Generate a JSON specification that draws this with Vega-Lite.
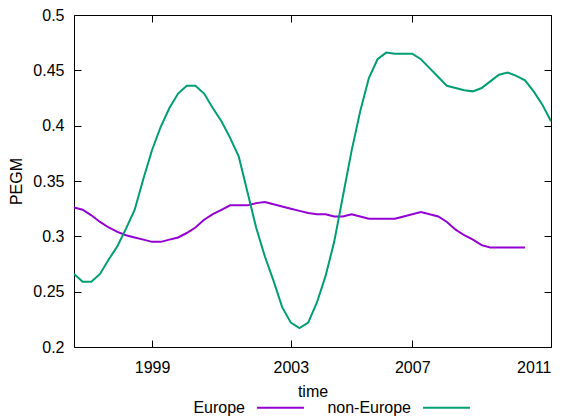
{
  "$schema": "https://vega.github.io/schema/vega-lite/v6.json",
  "width": 477,
  "height": 332,
  "autosize": {"type": "none"},
  "padding": {"left": 74, "top": 15, "right": 18, "bottom": 69},
  "background": "white",
  "config": {
    "font": "Liberation Sans",
    "view": {"stroke": "black", "strokeWidth": 1},
    "axis": {
      "grid": false,
      "domain": false,
      "tickColor": "black",
      "tickSize": -7,
      "tickWidth": 1,
      "labelFontSize": 16,
      "labelColor": "black",
      "labelFont": "Liberation Sans",
      "titleFont": "Liberation Sans",
      "titleFontSize": 16,
      "titleFontWeight": "normal",
      "titleColor": "black"
    }
  },
  "data": {
    "values": [
      {"t": 0, "series": "Europe", "PEGM": 0.326},
      {"t": 1, "series": "Europe", "PEGM": 0.324},
      {"t": 2, "series": "Europe", "PEGM": 0.319},
      {"t": 3, "series": "Europe", "PEGM": 0.313},
      {"t": 4, "series": "Europe", "PEGM": 0.308},
      {"t": 5, "series": "Europe", "PEGM": 0.304},
      {"t": 6, "series": "Europe", "PEGM": 0.301},
      {"t": 7, "series": "Europe", "PEGM": 0.299},
      {"t": 8, "series": "Europe", "PEGM": 0.297},
      {"t": 9, "series": "Europe", "PEGM": 0.295},
      {"t": 10, "series": "Europe", "PEGM": 0.295},
      {"t": 11, "series": "Europe", "PEGM": 0.297},
      {"t": 12, "series": "Europe", "PEGM": 0.299},
      {"t": 13, "series": "Europe", "PEGM": 0.303},
      {"t": 14, "series": "Europe", "PEGM": 0.308},
      {"t": 15, "series": "Europe", "PEGM": 0.315},
      {"t": 16, "series": "Europe", "PEGM": 0.320},
      {"t": 17, "series": "Europe", "PEGM": 0.324},
      {"t": 18, "series": "Europe", "PEGM": 0.328},
      {"t": 19, "series": "Europe", "PEGM": 0.328},
      {"t": 20, "series": "Europe", "PEGM": 0.328},
      {"t": 21, "series": "Europe", "PEGM": 0.330},
      {"t": 22, "series": "Europe", "PEGM": 0.331},
      {"t": 23, "series": "Europe", "PEGM": 0.329},
      {"t": 24, "series": "Europe", "PEGM": 0.327},
      {"t": 25, "series": "Europe", "PEGM": 0.325},
      {"t": 26, "series": "Europe", "PEGM": 0.323},
      {"t": 27, "series": "Europe", "PEGM": 0.321},
      {"t": 28, "series": "Europe", "PEGM": 0.320},
      {"t": 29, "series": "Europe", "PEGM": 0.320},
      {"t": 30, "series": "Europe", "PEGM": 0.318},
      {"t": 31, "series": "Europe", "PEGM": 0.318},
      {"t": 32, "series": "Europe", "PEGM": 0.320},
      {"t": 33, "series": "Europe", "PEGM": 0.318},
      {"t": 34, "series": "Europe", "PEGM": 0.316},
      {"t": 35, "series": "Europe", "PEGM": 0.316},
      {"t": 36, "series": "Europe", "PEGM": 0.316},
      {"t": 37, "series": "Europe", "PEGM": 0.316},
      {"t": 38, "series": "Europe", "PEGM": 0.318},
      {"t": 39, "series": "Europe", "PEGM": 0.320},
      {"t": 40, "series": "Europe", "PEGM": 0.322},
      {"t": 41, "series": "Europe", "PEGM": 0.320},
      {"t": 42, "series": "Europe", "PEGM": 0.318},
      {"t": 43, "series": "Europe", "PEGM": 0.313},
      {"t": 44, "series": "Europe", "PEGM": 0.306},
      {"t": 45, "series": "Europe", "PEGM": 0.301},
      {"t": 46, "series": "Europe", "PEGM": 0.297},
      {"t": 47, "series": "Europe", "PEGM": 0.292},
      {"t": 48, "series": "Europe", "PEGM": 0.290},
      {"t": 49, "series": "Europe", "PEGM": 0.290},
      {"t": 50, "series": "Europe", "PEGM": 0.290},
      {"t": 51, "series": "Europe", "PEGM": 0.290},
      {"t": 52, "series": "Europe", "PEGM": 0.290},
      {"t": 0, "series": "non-Europe", "PEGM": 0.266},
      {"t": 1, "series": "non-Europe", "PEGM": 0.259},
      {"t": 2, "series": "non-Europe", "PEGM": 0.259},
      {"t": 3, "series": "non-Europe", "PEGM": 0.266},
      {"t": 4, "series": "non-Europe", "PEGM": 0.279},
      {"t": 5, "series": "non-Europe", "PEGM": 0.291},
      {"t": 6, "series": "non-Europe", "PEGM": 0.307},
      {"t": 7, "series": "non-Europe", "PEGM": 0.324},
      {"t": 8, "series": "non-Europe", "PEGM": 0.352},
      {"t": 9, "series": "non-Europe", "PEGM": 0.378},
      {"t": 10, "series": "non-Europe", "PEGM": 0.399},
      {"t": 11, "series": "non-Europe", "PEGM": 0.416},
      {"t": 12, "series": "non-Europe", "PEGM": 0.429},
      {"t": 13, "series": "non-Europe", "PEGM": 0.436},
      {"t": 14, "series": "non-Europe", "PEGM": 0.436},
      {"t": 15, "series": "non-Europe", "PEGM": 0.429},
      {"t": 16, "series": "non-Europe", "PEGM": 0.416},
      {"t": 17, "series": "non-Europe", "PEGM": 0.404},
      {"t": 18, "series": "non-Europe", "PEGM": 0.389},
      {"t": 19, "series": "non-Europe", "PEGM": 0.372},
      {"t": 20, "series": "non-Europe", "PEGM": 0.340},
      {"t": 21, "series": "non-Europe", "PEGM": 0.308},
      {"t": 22, "series": "non-Europe", "PEGM": 0.282},
      {"t": 23, "series": "non-Europe", "PEGM": 0.260},
      {"t": 24, "series": "non-Europe", "PEGM": 0.236},
      {"t": 25, "series": "non-Europe", "PEGM": 0.222},
      {"t": 26, "series": "non-Europe", "PEGM": 0.217},
      {"t": 27, "series": "non-Europe", "PEGM": 0.222},
      {"t": 28, "series": "non-Europe", "PEGM": 0.240},
      {"t": 29, "series": "non-Europe", "PEGM": 0.264},
      {"t": 30, "series": "non-Europe", "PEGM": 0.295},
      {"t": 31, "series": "non-Europe", "PEGM": 0.336},
      {"t": 32, "series": "non-Europe", "PEGM": 0.377},
      {"t": 33, "series": "non-Europe", "PEGM": 0.413},
      {"t": 34, "series": "non-Europe", "PEGM": 0.443},
      {"t": 35, "series": "non-Europe", "PEGM": 0.460},
      {"t": 36, "series": "non-Europe", "PEGM": 0.466},
      {"t": 37, "series": "non-Europe", "PEGM": 0.465},
      {"t": 38, "series": "non-Europe", "PEGM": 0.465},
      {"t": 39, "series": "non-Europe", "PEGM": 0.465},
      {"t": 40, "series": "non-Europe", "PEGM": 0.460},
      {"t": 41, "series": "non-Europe", "PEGM": 0.452},
      {"t": 42, "series": "non-Europe", "PEGM": 0.444},
      {"t": 43, "series": "non-Europe", "PEGM": 0.436},
      {"t": 44, "series": "non-Europe", "PEGM": 0.434},
      {"t": 45, "series": "non-Europe", "PEGM": 0.432},
      {"t": 46, "series": "non-Europe", "PEGM": 0.431},
      {"t": 47, "series": "non-Europe", "PEGM": 0.434},
      {"t": 48, "series": "non-Europe", "PEGM": 0.440},
      {"t": 49, "series": "non-Europe", "PEGM": 0.446},
      {"t": 50, "series": "non-Europe", "PEGM": 0.448},
      {"t": 51, "series": "non-Europe", "PEGM": 0.445},
      {"t": 52, "series": "non-Europe", "PEGM": 0.441},
      {"t": 53, "series": "non-Europe", "PEGM": 0.431},
      {"t": 54, "series": "non-Europe", "PEGM": 0.419},
      {"t": 55, "series": "non-Europe", "PEGM": 0.404}
    ]
  },
  "layer": [
    {
      "mark": {"type": "line", "strokeWidth": 2, "clip": true},
      "encoding": {
        "x": {
          "field": "t",
          "type": "quantitative",
          "scale": {"domain": [0, 55], "nice": false, "zero": false},
          "axis": {
            "orient": "bottom",
            "values": [9, 25, 39, 55],
            "labelExpr": "datum.value == 9 ? '1999' : datum.value == 25 ? '2003' : datum.value == 39 ? '2007' : '2011'",
            "labelPadding": 19,
            "title": "time",
            "titlePadding": 8
          }
        },
        "y": {
          "field": "PEGM",
          "type": "quantitative",
          "scale": {"domain": [0.2, 0.5], "nice": false, "zero": false},
          "axis": {
            "orient": "left",
            "values": [0.2, 0.25, 0.3, 0.35, 0.4, 0.45, 0.5],
            "format": "~g",
            "labelPadding": 17,
            "title": "PEGM",
            "titlePadding": 8
          }
        },
        "color": {
          "field": "series",
          "type": "nominal",
          "scale": {"domain": ["Europe", "non-Europe"], "range": ["#9400d3", "#009e73"]},
          "legend": {
            "orient": "none",
            "direction": "horizontal",
            "legendX": 182,
            "legendY": 368,
            "title": null,
            "padding": 0,
            "symbolType": "stroke",
            "symbolStrokeWidth": 2,
            "symbolSize": 2200,
            "labelFontSize": 16,
            "labelFont": "Liberation Sans",
            "labelColor": "black",
            "labelAlign": "right",
            "labelOffset": -60,
            "columnPadding": 19
          }
        }
      }
    },
    {
      "mark": {"type": "point", "opacity": 0},
      "encoding": {
        "x": {
          "field": "t",
          "type": "quantitative",
          "axis": {"orient": "top", "values": [9, 25, 39, 55], "labels": false, "title": null}
        },
        "y": {
          "field": "PEGM",
          "type": "quantitative",
          "axis": {"orient": "right", "values": [0.2, 0.25, 0.3, 0.35, 0.4, 0.45, 0.5], "labels": false, "title": null}
        }
      }
    }
  ],
  "resolve": {"axis": {"x": "independent", "y": "independent"}}
}
